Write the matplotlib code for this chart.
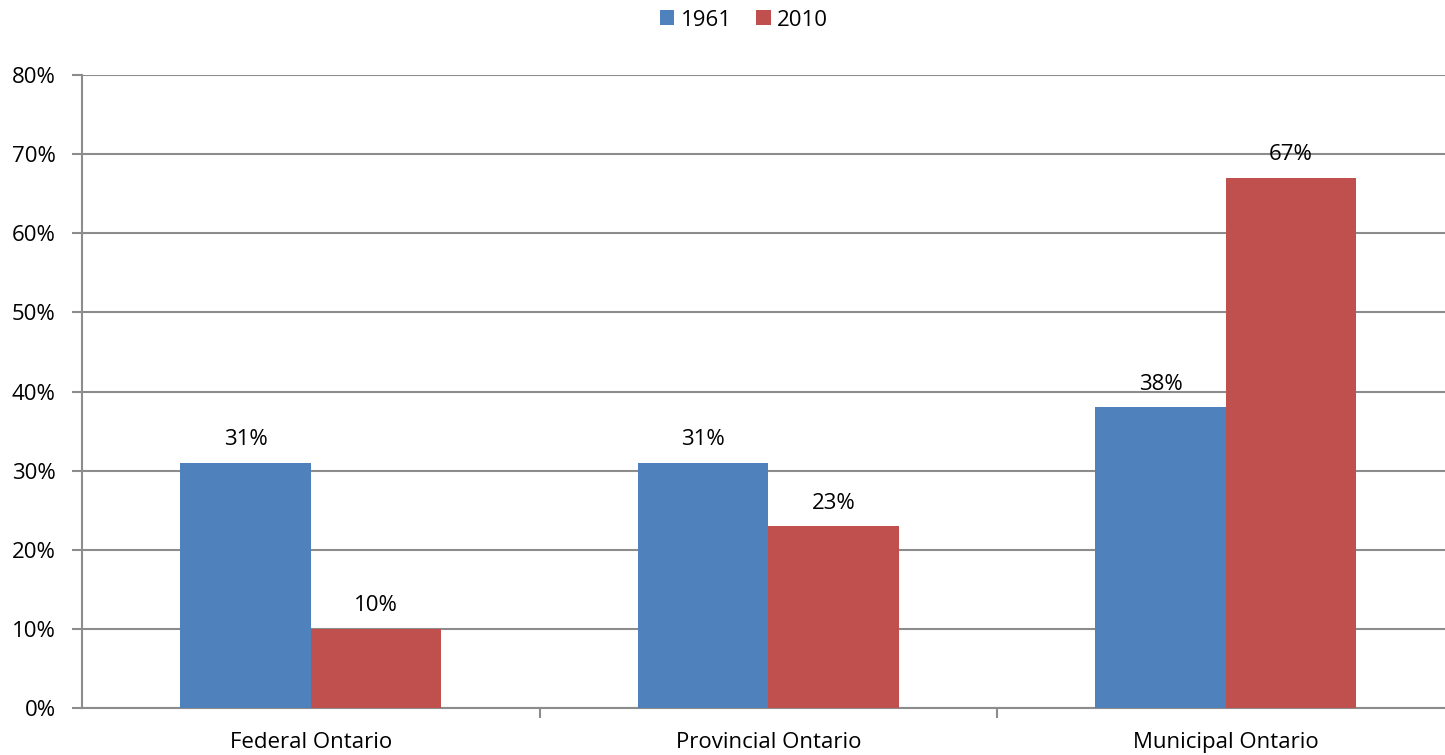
import matplotlib.pyplot as plt
import numpy as np

plt.rcParams['font.family'] = ['Open Sans', 'DejaVu Sans']

categories = ['Federal Ontario', 'Provincial Ontario', 'Municipal Ontario']
series_names = ['1961', '2010']
values_1961 = [31, 31, 38]
values_2010 = [10, 23, 67]
colors = ['#4F81BD', '#C0504D']

fig = plt.figure(figsize=(14.45, 7.55), dpi=100)
ax = fig.add_axes([82 / 1445, 1 - 708 / 755, 1 - 82 / 1445, (708 - 75) / 755])

x = np.arange(len(categories))
w = 0.285
grid_col = '#8c8c8c'
fs = 16

for i, (vals, name) in enumerate(zip([values_1961, values_2010], series_names)):
    pos = x + (i - 0.5) * w
    bars = ax.bar(pos, vals, w, color=colors[i], label=name, zorder=3)
    for b, v in zip(bars, vals):
        ax.annotate(f'{v}%', (b.get_x() + b.get_width() / 2, v),
                    xytext=(0, 9), textcoords='offset points',
                    ha='center', va='bottom', fontsize=fs)

ax.set_ylim(0, 80)
ax.set_yticks(range(0, 81, 10))
ax.set_yticklabels([f'{t}%' for t in range(0, 81, 10)], fontsize=fs)
ax.set_xlim(-0.5, -0.5 + 1363 / 457.5)
ax.set_xticks(x)
ax.set_xticklabels(categories, fontsize=fs)
ax.set_xticks([0.5, 1.5], minor=True)
ax.tick_params(axis='x', which='major', length=0, pad=17)
ax.tick_params(axis='x', which='minor', length=7, color=grid_col, width=1.5)
ax.tick_params(axis='y', length=7, color=grid_col, width=1.5, pad=12)

ax.yaxis.grid(True, color=grid_col, linewidth=1.5, zorder=0)
ax.set_axisbelow(True)
for s in ['top', 'right']:
    ax.spines[s].set_visible(False)
for s in ['left', 'bottom']:
    ax.spines[s].set_color(grid_col)
    ax.spines[s].set_linewidth(1.5)

fig.legend(loc='center', bbox_to_anchor=(744 / 1445, 1 - 20 / 755), ncol=2,
           frameon=False, fontsize=fs, handlelength=0.65, handleheight=0.65,
           handletextpad=0.3, columnspacing=1.1)

fig.savefig('out.png', dpi=100)
